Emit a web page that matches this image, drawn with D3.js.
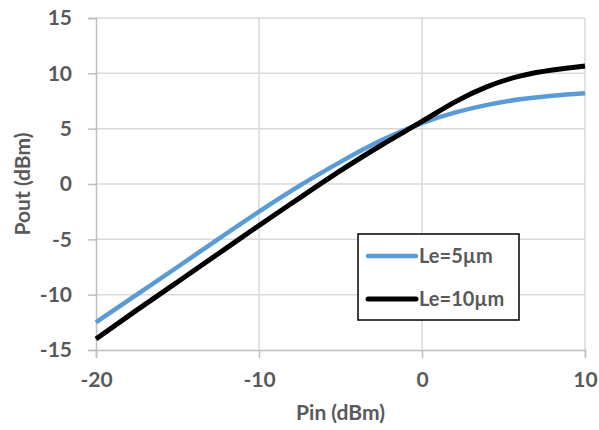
<!DOCTYPE html>
<html>
<head>
<meta charset="utf-8">
<script src="https://cdn.jsdelivr.net/npm/d3@7"></script>
<style>
  body { margin: 0; background: #fff; }
  text { font-family: Lato, "Open Sans", sans-serif; font-weight: bold; fill: #595959; }
</style>
</head>
<body>
<svg id="chart" width="599" height="430"></svg>
<script>
// input power (dBm)
const pin = [-20, -17.5, -15, -12.5, -10, -7.5, -5, -2.5, 0, 2, 4, 6, 8, 10];
// output power (dBm) per emitter length
const le5 = [-12.5, -10.0, -7.5, -4.98, -2.5, -0.15, 2.0, 3.95, 5.5, 6.45, 7.15, 7.65, 7.98, 8.2];
const le10 = [-14.0, -11.4, -8.85, -6.3, -3.75, -1.25, 1.2, 3.5, 5.65, 7.4, 8.8, 9.75, 10.3, 10.66];

const xTicks = [-20, -10, 0, 10];
const yTicks = [-15, -10, -5, 0, 5, 10, 15];

const series = [
    {name: "Le=5\u00b5m", values: le5, color: "#5b9bd5", width: 4.5},
    {name: "Le=10\u00b5m", values: le10, color: "#000000", width: 5}
];

{
    const margin = {top: 18, right: 14, bottom: 80, left: 96},
        width = 599 - margin.left - margin.right,
        height = 430 - margin.top - margin.bottom;

    const svg = d3.select("#chart");
    const chart = svg.append("g")
        .attr("transform", `translate(${margin.left}, ${margin.top})`);

    const x = d3.scaleLinear().domain([-20, 10]).range([0, width]);
    const y = d3.scaleLinear().domain([-15, 15]).range([height, 0]);

    // gridlines
    chart.append("g")
        .selectAll("line")
        .data(xTicks.slice(1))
        .enter().append("line")
            .attr("x1", d => x(d)).attr("x2", d => x(d))
            .attr("y1", 0).attr("y2", height)
            .attr("stroke", "#d9d9d9").attr("stroke-width", 1.5);
    chart.append("g")
        .selectAll("line")
        .data(yTicks.slice(1))
        .enter().append("line")
            .attr("x1", 0).attr("x2", width)
            .attr("y1", d => y(d)).attr("y2", d => y(d))
            .attr("stroke", "#d9d9d9").attr("stroke-width", 1.5);

    // axes (plain hyphen for negatives, like the original)
    const fmt = d => String(d);
    const xAxis = chart.append("g")
        .attr("transform", `translate(0, ${height})`)
        .call(d3.axisBottom(x).tickValues(xTicks).tickFormat(fmt).tickSize(8).tickPadding(14));
    const yAxis = chart.append("g")
        .call(d3.axisLeft(y).tickValues(yTicks).tickFormat(fmt).tickSize(8).tickPadding(16));

    [xAxis, yAxis].forEach(a => {
        a.select(".domain").attr("stroke", "#bfbfbf").attr("stroke-width", 1.5);
        a.selectAll(".tick line").attr("stroke", "#bfbfbf").attr("stroke-width", 1.5);
        a.selectAll(".tick text")
            .style("font-family", "Lato, 'Open Sans', sans-serif")
            .style("font-weight", "bold")
            .style("font-size", "21px")
            .attr("fill", "#595959");
    });

    // curves
    const line = d3.line()
        .x((d, i) => x(pin[i]))
        .y(d => y(d))
        .curve(d3.curveNatural);

    chart.selectAll("path.series")
        .data(series)
        .enter().append("path")
            .attr("class", "series")
            .attr("d", d => line(d.values))
            .attr("fill", "none")
            .attr("stroke", d => d.color)
            .attr("stroke-width", d => d.width);

    // axis titles
    svg.append("text")
        .attr("x", margin.left + width / 2)
        .attr("y", 420)
        .attr("text-anchor", "middle")
        .style("font-size", "21px")
        .text("Pin (dBm)");
    svg.append("text")
        .attr("transform", `translate(30, ${margin.top + height / 2}) rotate(-90)`)
        .attr("text-anchor", "middle")
        .style("font-size", "21px")
        .text("Pout (dBm)");

    // legend
    const legend = svg.append("g").attr("transform", "translate(358, 234)");
    legend.append("rect")
        .attr("width", 161).attr("height", 86)
        .attr("fill", "#fff").attr("stroke", "#000").attr("stroke-width", 1.5);
    const item = legend.selectAll("g.item")
        .data(series)
        .enter().append("g")
            .attr("transform", (d, i) => `translate(0, ${22 + i * 43})`);
    item.append("line")
        .attr("x1", 10).attr("x2", 58)
        .attr("stroke", d => d.color)
        .attr("stroke-width", d => d.width)
        .attr("stroke-linecap", "round");
    item.append("text")
        .attr("x", 61).attr("dy", "0.35em")
        .style("font-size", "20px")
        .text(d => d.name);
}
</script>
</body>
</html>
